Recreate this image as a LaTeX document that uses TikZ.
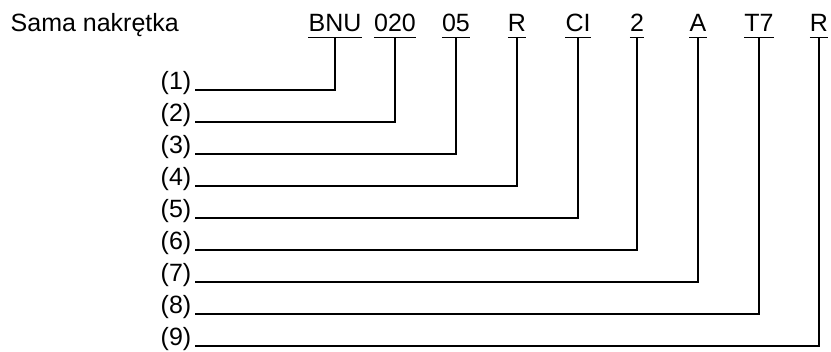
\documentclass[tikz,border=0pt]{standalone}
\usepackage{fontspec}
\setmainfont{Liberation Sans}
\begin{document}
\begin{tikzpicture}[x=1pt,y=-1pt,
  txt/.style={inner sep=0pt,font=\fontsize{25}{25}\selectfont},
  codepart/.style={txt,anchor=base},
  num/.style={txt,anchor=base east},
  wire/.style={line width=1.3pt,line join=miter}]
\useasboundingbox (0,0) rectangle (831,352);

\node[txt,anchor=base west] (title) at (10.5,32) {Sama nakrętka};

% code segments, centred over their leader lines
\foreach \n/\x/\t in {1/335/BNU,2/395/020,3/456/05,4/517/R,5/578/CI,6/637/2,7/698/A,8/759/T7,9/819/R}{
  \node[codepart] (c\n) at (\x,32) {\t};
  \coordinate (u\n) at ([yshift=-5.5pt]c\n.base);
  \draw[wire] ([yshift=-5.5pt]c\n.base west) -- ([yshift=-5.5pt]c\n.base east);
}

% numbered rows with their leaders
\foreach \n in {1,...,9}{
  \node[num] (l\n) at (191.5,{90+32*(\n-1)}) {(\n)};
  \draw[wire] ([xshift=3.5pt]l\n.base east) -| (u\n);
}
\end{tikzpicture}
\end{document}
